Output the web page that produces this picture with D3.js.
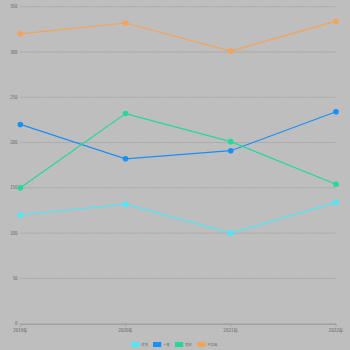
<!DOCTYPE html>
<html><head><meta charset="utf-8">
<script src="https://cdn.jsdelivr.net/npm/d3@7"></script>
<style>html,body{margin:0;padding:0;background:#bebebe;}svg{display:block;}</style>
</head><body>
<script>
const categories = ["2019年","2020年","2021年","2022年"];
const seriesNames = ["优秀","一般","良好","不及格"];
const seriesColors = ["#4fe6f5","#1a8ff5","#22d99a","#f4a358"];
const excellent = [120,132,100,134];
const normal = [220,182,191,234];
const good = [150,232,201,154];
const fail = [320,332,301,334];
const yTicks = [0,50,100,150,200,250,300,350];
const seriesValues = [excellent, normal, good, fail];

const W=350,H=350;
const svg=d3.select("body").append("svg").attr("width",W).attr("height",H);
svg.append("rect").attr("width",W).attr("height",H).attr("fill","#bebebe");
const x=d3.scalePoint().domain(categories).range([20.3,336]);
const y=d3.scaleLinear().domain([0,350]).range([323.7,6.7]);

const font="'Noto Sans CJK SC','Noto Sans',sans-serif";
// grid
svg.append("g").selectAll("line").data(yTicks.filter(d=>d>0)).join("line")
 .attr("x1",20.3).attr("x2",336).attr("y1",d=>y(d)).attr("y2",d=>y(d))
 .attr("stroke","#a4a4a4").attr("stroke-width",1).attr("stroke-dasharray","2,1");
// y labels
svg.append("g").selectAll("text").data(yTicks).join("text")
 .attr("x",17.5).attr("y",d=>y(d)).attr("dy","0.35em").attr("text-anchor","end")
 .attr("font-size",4.4).attr("font-family",font).attr("fill","#5e5e5e").text(d=>d);
// x axis line
svg.append("line").attr("x1",20.3).attr("x2",336).attr("y1",y(0)+0.5).attr("y2",y(0)+0.5)
 .attr("stroke","#a0a0a0").attr("stroke-width",1.5);
svg.append("g").selectAll("line").data(categories).join("line")
 .attr("x1",d=>x(d)).attr("x2",d=>x(d)).attr("y1",y(0)).attr("y2",y(0)+3)
 .attr("stroke","#a0a0a0");
svg.append("g").selectAll("text").data(categories).join("text")
 .attr("x",d=>x(d)).attr("y",330.5).attr("dy","0.35em").attr("text-anchor","middle")
 .attr("font-size",4.6).attr("font-family",font).attr("fill","#5e5e5e").text(d=>d);

const line=d3.line().x((d,i)=>x(categories[i])).y(d=>y(d));
seriesValues.forEach((vals,si)=>{
  const g=svg.append("g");
  g.append("path").datum(vals).attr("d",line).attr("fill","none")
   .attr("stroke",seriesColors[si]).attr("stroke-width",1.2);
  g.selectAll("circle").data(vals).join("circle")
   .attr("cx",(d,i)=>x(categories[i])).attr("cy",d=>y(d)).attr("r",2.8)
   .attr("fill",seriesColors[si]);
});

// legend
const legX=[131.3,153,175,197.3];
const lg=svg.append("g");
seriesNames.forEach((n,i)=>{
  lg.append("rect").attr("x",legX[i]).attr("y",342).attr("width",8.2).attr("height",5)
   .attr("fill",seriesColors[i]);
  lg.append("text").attr("x",legX[i]+10).attr("y",344.5).attr("dy","0.35em")
   .attr("font-size",3.4).attr("font-family",font).attr("fill","#6a6a6a").text(n);
});
</script>
</body></html>
